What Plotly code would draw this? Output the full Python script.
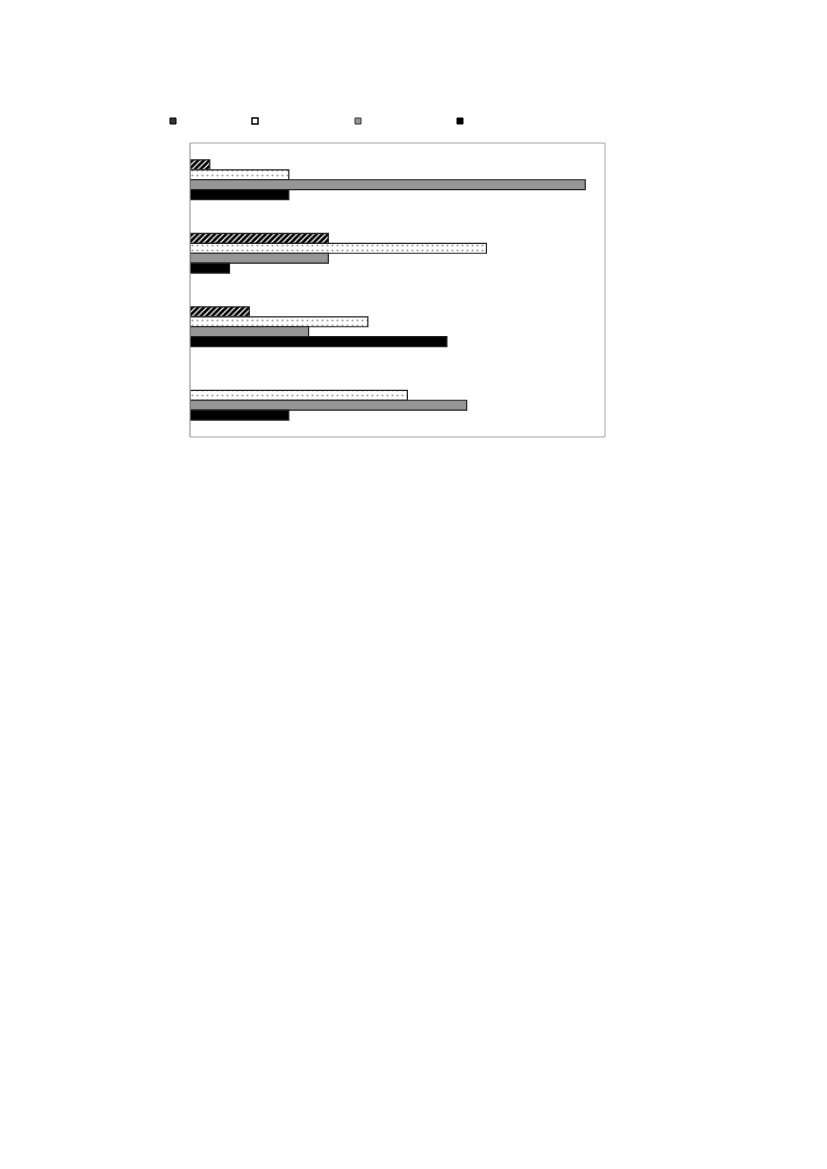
import plotly.graph_objects as go

categories = ["1", "2", "3", "4"]
series_names = ["", "", "", ""]
hatched_vals = [1, 7, 3, 0]
dotted_vals = [5, 15, 9, 11]
gray_vals = [20, 7, 6, 14]
black_vals = [5, 2, 13, 5]

W, H = 811, 1150
OFF = 8  # page body margin
L, R, T, B = 190 - OFF, 605 - OFF, 143 - OFF, 437 - OFF

fig = go.Figure()


def edge(vals, color="#222222"):
    return dict(color=color, width=[1.2 if v else 0 for v in vals])


fig.add_bar(y=categories, x=hatched_vals, orientation="h", showlegend=False,
            marker=dict(color="black", line=edge(hatched_vals),
                        pattern=dict(shape="/", fgcolor="white", bgcolor="black", size=4,
                                     solidity=0.3, fillmode="replace")))
fig.add_bar(y=categories, x=dotted_vals, orientation="h", showlegend=False,
            marker=dict(color="white", line=edge(dotted_vals),
                        pattern=dict(shape=".", fgcolor="#444444", bgcolor="white", size=5, solidity=0.15)))
fig.add_bar(y=categories, x=gray_vals, orientation="h", showlegend=False,
            marker=dict(color="#969696", line=edge(gray_vals)))
fig.add_bar(y=categories, x=black_vals, orientation="h", showlegend=False,
            marker=dict(color="black", line=edge(black_vals)))

# legend-only entries
leg_markers = [
    dict(color="#333333", line=dict(color="black", width=1)),
    dict(color="white", line=dict(color="black", width=1.5)),
    dict(color="#969696", line=dict(color="#333333", width=1)),
    dict(color="black", line=dict(color="black", width=1)),
]
leg_centers = [173, 255, 358, 460]
legend_ids = ["legend", "legend2", "legend3", "legend4"]
for i, (m, lid) in enumerate(zip(leg_markers, legend_ids)):
    fig.add_scatter(x=[None], y=[None], mode="markers", name=series_names[i],
                    marker=dict(symbol="square", size=6, **m), legend=lid)

pw, ph = R - L, B - T
layout_legends = {}
for cx, lid in zip(leg_centers, legend_ids):
    layout_legends[lid] = dict(
        x=(cx - 20 - OFF - L) / pw, xanchor="left",
        y=(B - (121 - OFF)) / ph, yanchor="middle",
        bgcolor="rgba(0,0,0,0)", borderwidth=0,
        font=dict(size=10, color="black"),
    )

fig.update_layout(
    width=W, height=H,
    margin=dict(l=L, r=W - R, t=T, b=H - B, pad=0),
    paper_bgcolor="white", plot_bgcolor="white",
    barmode="group", bargap=0.46, bargroupgap=0,
    xaxis=dict(range=[0, 21], showgrid=False, zeroline=False, showticklabels=False,
               ticks="", showline=False),
    yaxis=dict(autorange="reversed", showgrid=False, zeroline=False, showticklabels=False,
               ticks="", showline=False),
    shapes=[dict(type="rect", xref="paper", yref="paper", x0=0, x1=1, y0=0, y1=1,
                 line=dict(color="#a6a6a6", width=1), layer="above"),
            dict(type="line", xref="paper", yref="paper", x0=0, x1=0, y0=0, y1=1,
                 line=dict(color="#d9d9d9", width=1.5), layer="below")],
    **layout_legends,
)

fig.write_html("out.html")
